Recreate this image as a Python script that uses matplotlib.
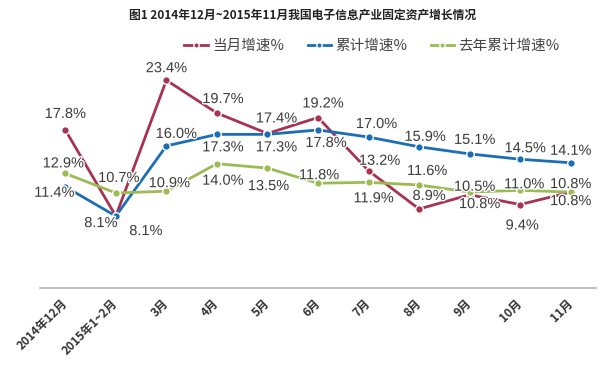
import matplotlib
matplotlib.use('Agg')
import matplotlib.pyplot as plt
import matplotlib.patheffects as pe

plt.rcParams['font.family'] = ['Noto Sans CJK SC', 'DejaVu Sans']

months = ['2014年12月', '2015年1~2月', '3月', '4月', '5月', '6月', '7月', '8月', '9月', '10月', '11月']
monthly = [17.8, 8.1, 23.4, 19.7, 17.4, 19.2, 13.2, 8.9, 10.5, 9.4, 10.8]
cumulative = [11.4, 8.1, 16.0, 17.3, 17.3, 17.8, 17.0, 15.9, 15.1, 14.5, 14.1]
last_year = [12.9, 10.7, 10.9, 14.0, 13.5, 11.8, 11.9, 11.6, 10.8, 11.0, 10.8]
series_names = ['当月增速%', '累计增速%', '去年累计增速%']

# label offsets in pixels (dx, dy)
off_monthly = [(0, 16), (30, -15), (0, 12), (6, 14), (9, 15), (5, 14),
               (11, 10), (10, 13), (5, 8), (2, -21), (0, -9)]
off_cum = [(-11, -6), (-15, -7), (10, 12), (6, -13), (9, -13), (8, -13),
           (8, 13), (6, 10), (5, 14), (5, 11), (0, 12)]
off_last = [(-2, 10), (3, 15), (3, 8), (6, -17), (1, -18), (1, 8),
            (5, -16), (8, 14), (10, -12), (4, 6), (0, 8)]

colors = ['#a83252', '#1b6db5', '#9dbb55']

fig = plt.figure(figsize=(6, 3.72), dpi=100)
ax = fig.add_axes([40 / 600, 84 / 372, 556 / 600, 222 / 372])
x = list(range(len(months)))

for vals, offs, c, name in zip([monthly, cumulative, last_year],
                               [off_monthly, off_cum, off_last], colors, series_names):
    ax.plot(x, vals, color=c, lw=2, marker='o', ms=5.5, mfc=c, mec='white',
            mew=1.0, label=name, zorder=3)
    for xi, v, (dx, dy) in zip(x, vals, offs):
        t = ax.annotate('%.1f%%' % v, (xi, v), xytext=(dx, dy), textcoords='offset pixels',
                        ha='center', va='center', fontsize=10.5, color='#3c3c3c',
                        family=['Liberation Sans', 'DejaVu Sans'], zorder=4)
        t.set_path_effects([pe.withStroke(linewidth=2, foreground='white')])

ax.set_xlim(-0.5, 10.5)
ax.set_ylim(0, 25)
ax.set_yticks([])
ax.set_xticks(x)
ax.set_xticklabels(months, rotation=45, ha='right', va='center', rotation_mode='anchor',
                   fontsize=8.5, fontweight='bold', color='#333333')
ax.tick_params(axis='x', length=0, pad=10)
for s in ['top', 'left', 'right']:
    ax.spines[s].set_visible(False)
ax.spines['bottom'].set_color('#b5b5b5')
ax.spines['bottom'].set_linewidth(1.2)

fig.text(0.505, 1 - 15 / 372, '图1 2014年12月~2015年11月我国电子信息产业固定资产增长情况',
         ha='center', va='center', fontsize=8.5, fontweight='bold', color='#222222')

leg = fig.legend(loc='center', bbox_to_anchor=(0.62, 1 - 46 / 372), ncol=3, frameon=False,
                 fontsize=10.5, handlelength=1.6, handletextpad=0.3, columnspacing=1.6,
                 markerscale=0.7)
for t in leg.get_texts():
    t.set_color('#444444')

fig.savefig('out.png', dpi=100)
